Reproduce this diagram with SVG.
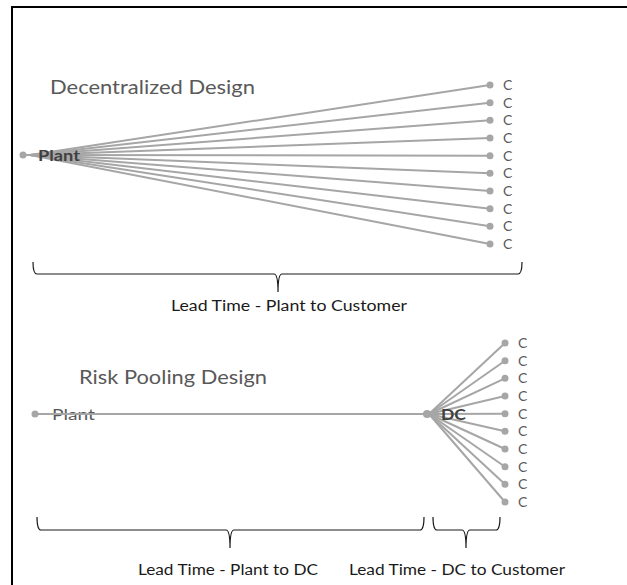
<svg xmlns="http://www.w3.org/2000/svg" width="627" height="585" viewBox="0 0 627 585">
<style>
.ln{stroke:#A6A6A6;stroke-width:2;fill:none}
.dot{fill:#A6A6A6}
.br{stroke:#1a1a1a;stroke-width:1.2;fill:none}
.t{font-family:Lato,"Open Sans","Liberation Sans",Arial,sans-serif;fill:#595959}
.title{font-size:20px}
.c{font-size:14px;fill:#595959}
.bold{font-weight:bold;fill:#404040;font-size:15px}
.lt{font-size:14.5px;fill:#1a1a1a}
</style>
<rect width="627" height="585" fill="#fff"/>
<path d="M12,585 V7 H627" stroke="#000" stroke-width="2" fill="none"/>

<g id="connectors">
  <g id="top-fan">
    <line class="ln" x1="23" y1="155" x2="30" y2="155"/>
    <line class="ln" x1="30" y1="155" x2="490" y2="85"/>
    <line class="ln" x1="30" y1="155" x2="490" y2="102.7"/>
    <line class="ln" x1="30" y1="155" x2="490" y2="120.3"/>
    <line class="ln" x1="30" y1="155" x2="490" y2="138"/>
    <line class="ln" x1="30" y1="155" x2="490" y2="155.7"/>
    <line class="ln" x1="30" y1="155" x2="490" y2="173.3"/>
    <line class="ln" x1="30" y1="155" x2="490" y2="191"/>
    <line class="ln" x1="30" y1="155" x2="490" y2="208.7"/>
    <line class="ln" x1="30" y1="155" x2="490" y2="226.3"/>
    <line class="ln" x1="30" y1="155" x2="490" y2="244"/>
  </g>
  <g id="bottom-fan">
    <line class="ln" x1="35" y1="414" x2="427" y2="414"/>
    <line class="ln" x1="429" y1="414" x2="505" y2="343"/>
    <line class="ln" x1="429" y1="414" x2="505" y2="360.7"/>
    <line class="ln" x1="429" y1="414" x2="505" y2="378.3"/>
    <line class="ln" x1="429" y1="414" x2="505" y2="396"/>
    <line class="ln" x1="429" y1="414" x2="505" y2="413.7"/>
    <line class="ln" x1="429" y1="414" x2="505" y2="431.3"/>
    <line class="ln" x1="429" y1="414" x2="505" y2="449"/>
    <line class="ln" x1="429" y1="414" x2="505" y2="466.7"/>
    <line class="ln" x1="429" y1="414" x2="505" y2="484.3"/>
    <line class="ln" x1="429" y1="414" x2="505" y2="502"/>
  </g>
</g>

<text class="t title" x="50" y="94" textLength="205" lengthAdjust="spacingAndGlyphs">Decentralized Design</text>
<text class="t title" x="79" y="384" textLength="188" lengthAdjust="spacingAndGlyphs">Risk Pooling Design</text>

<g id="plant-top">
  <circle class="dot" cx="23" cy="155" r="3.5"/>
  <text class="t bold" x="38" y="161" textLength="42" lengthAdjust="spacingAndGlyphs">Plant</text>
</g>

<g id="customers-top">
  <g class="dot">
    <circle cx="490" cy="85" r="3.5"/><circle cx="490" cy="102.7" r="3.5"/><circle cx="490" cy="120.3" r="3.5"/>
    <circle cx="490" cy="138" r="3.5"/><circle cx="490" cy="155.7" r="3.5"/><circle cx="490" cy="173.3" r="3.5"/>
    <circle cx="490" cy="191" r="3.5"/><circle cx="490" cy="208.7" r="3.5"/><circle cx="490" cy="226.3" r="3.5"/>
    <circle cx="490" cy="244" r="3.5"/>
  </g>
  <g class="t c">
    <text x="503" y="90">C</text><text x="503" y="107.7">C</text><text x="503" y="125.3">C</text>
    <text x="503" y="143">C</text><text x="503" y="160.7">C</text><text x="503" y="178.3">C</text>
    <text x="503" y="196">C</text><text x="503" y="213.7">C</text><text x="503" y="231.3">C</text>
    <text x="503" y="249">C</text>
  </g>
</g>

<g id="bracket-top">
  <path class="br" d="M33,262 Q33,274 37,274 H274 Q278,274 278,292 Q278,274 282,274 H518 Q522,274 522,262"/>
  <text class="t lt" x="171" y="311" textLength="236" lengthAdjust="spacingAndGlyphs">Lead Time - Plant to Customer</text>
</g>

<g id="plant-bottom">
  <circle class="dot" cx="35" cy="414" r="3.5"/>
  <text class="t" x="52" y="420" font-size="16" fill="#595959" textLength="43" lengthAdjust="spacingAndGlyphs">Plant</text>
  <line class="ln" x1="48" y1="414" x2="100" y2="414"/>
</g>

<g id="dc">
  <circle class="dot" cx="427" cy="414" r="4"/>
  <text class="t bold" x="441" y="420" textLength="25" lengthAdjust="spacingAndGlyphs">DC</text>
</g>

<g id="customers-bottom">
  <g class="dot">
    <circle cx="505" cy="343" r="3.5"/><circle cx="505" cy="360.7" r="3.5"/><circle cx="505" cy="378.3" r="3.5"/>
    <circle cx="505" cy="396" r="3.5"/><circle cx="505" cy="413.7" r="3.5"/><circle cx="505" cy="431.3" r="3.5"/>
    <circle cx="505" cy="449" r="3.5"/><circle cx="505" cy="466.7" r="3.5"/><circle cx="505" cy="484.3" r="3.5"/>
    <circle cx="505" cy="502" r="3.5"/>
  </g>
  <g class="t c">
    <text x="518" y="348">C</text><text x="518" y="365.7">C</text><text x="518" y="383.3">C</text>
    <text x="518" y="401">C</text><text x="518" y="418.7">C</text><text x="518" y="436.3">C</text>
    <text x="518" y="454">C</text><text x="518" y="471.7">C</text><text x="518" y="489.3">C</text>
    <text x="518" y="507">C</text>
  </g>
</g>

<g id="bracket-plant-dc">
  <path class="br" d="M37,517 Q37,530 41,530 H226 Q230,530 230,548 Q230,530 234,530 H420 Q424,530 424,517"/>
  <text class="t lt" x="138" y="575" textLength="180" lengthAdjust="spacingAndGlyphs">Lead Time - Plant to DC</text>
</g>
<g id="bracket-dc-customer">
  <path class="br" d="M433,517 Q433,530 437,530 H462 Q466,530 466,548 Q466,530 470,530 H496 Q500,530 500,517"/>
  <text class="t lt" x="349" y="575" textLength="216" lengthAdjust="spacingAndGlyphs">Lead Time - DC to Customer</text>
</g>
</svg>
